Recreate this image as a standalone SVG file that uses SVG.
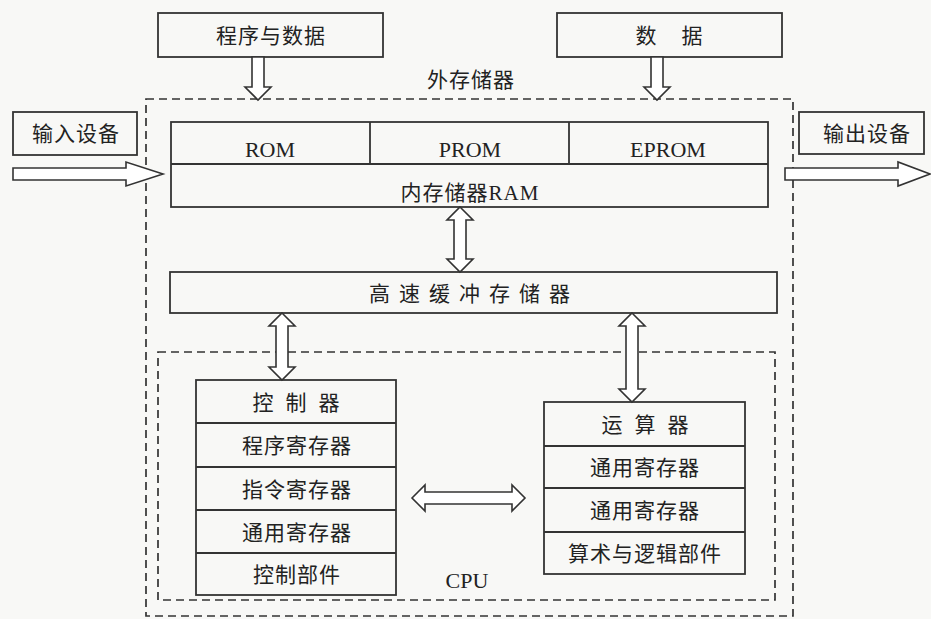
<svg xmlns="http://www.w3.org/2000/svg" width="931" height="619" viewBox="0 0 931 619">
<style>
.box{fill:none;stroke:#333;stroke-width:1.8}
.dash{fill:none;stroke:#333;stroke-width:1.7;stroke-dasharray:8 5}
.arr{fill:#fff;stroke:#333;stroke-width:1.6;stroke-linejoin:miter}
.t{font-family:"Liberation Serif","Noto Sans CJK SC",serif;font-size:21px;fill:#222;text-anchor:middle}
.c{letter-spacing:1px}
.lat{font-size:22px}
</style>
<rect x="0" y="0" width="931" height="619" fill="#f8f8f6"/>
<g id="outer-storage">
<rect class="dash" x="146" y="99" width="647" height="517"/>
<text class="t c" x="471" y="87">外存储器</text>
</g>
<g id="prog-data">
<rect class="box" x="158" y="13" width="225" height="44"/>
<text class="t c" x="271" y="43">程序与数据</text>
</g>
<g id="data">
<rect class="box" x="557" y="13" width="225" height="44"/>
<text class="t" x="674" y="43" style="letter-spacing:10px">数 据</text>
</g>
<g id="input">
<rect class="box" x="13" y="112" width="124" height="43"/>
<text class="t c" x="76" y="141">输入设备</text>
</g>
<g id="output">
<rect class="box" x="799" y="112" width="125" height="42"/>
<text class="t c" x="867" y="141">输出设备</text>
</g>
<g id="memory">
<rect class="box" x="171" y="122" width="597" height="85"/>
<line class="box" x1="171" y1="164" x2="768" y2="164"/>
<line class="box" x1="370" y1="122" x2="370" y2="164"/>
<line class="box" x1="569" y1="122" x2="569" y2="164"/>
<text class="t lat" x="270" y="157">ROM</text>
<text class="t lat" x="470" y="157">PROM</text>
<text class="t lat" x="668" y="157">EPROM</text>
<text class="t c" x="470" y="200">内存储器RAM</text>
</g>
<g id="cache">
<rect class="box" x="170" y="272" width="607" height="41"/>
<text class="t" x="474" y="301" style="letter-spacing:9px">高速缓冲存储器</text>
</g>
<g id="cpu">
<rect class="dash" x="158" y="352" width="617" height="248"/>
<text class="t lat" x="467" y="588">CPU</text>
</g>
<g id="controller">
<rect class="box" x="196" y="380" width="200" height="215"/>
<line class="box" x1="196" y1="423" x2="396" y2="423"/>
<line class="box" x1="196" y1="467" x2="396" y2="467"/>
<line class="box" x1="196" y1="510" x2="396" y2="510"/>
<line class="box" x1="196" y1="553" x2="396" y2="553"/>
<text class="t" x="302" y="410" style="letter-spacing:12px">控制器</text>
<text class="t c" x="297" y="453">程序寄存器</text>
<text class="t c" x="297" y="497">指令寄存器</text>
<text class="t c" x="297" y="540">通用寄存器</text>
<text class="t c" x="297" y="582">控制部件</text>
</g>
<g id="alu">
<rect class="box" x="544" y="402" width="201" height="172"/>
<line class="box" x1="544" y1="446" x2="745" y2="446"/>
<line class="box" x1="544" y1="488" x2="745" y2="488"/>
<line class="box" x1="544" y1="532" x2="745" y2="532"/>
<text class="t" x="651" y="432" style="letter-spacing:12px">运算器</text>
<text class="t c" x="645" y="475">通用寄存器</text>
<text class="t c" x="645" y="518">通用寄存器</text>
<text class="t c" x="645" y="561">算术与逻辑部件</text>
</g>
<g id="connectors">
<polygon class="arr" points="252,57 264,57 264,87 271,87 258,100 245,87 252,87"/>
<polygon class="arr" points="651,57 663,57 663,87 670,87 657,100 644,87 651,87"/>
<polygon class="arr" points="13,168 126,168 126,162 163,174 126,186 126,180 13,180"/>
<polygon class="arr" points="785,168 898,168 898,162 930,174 898,186 898,180 785,180"/>
<polygon class="arr" points="460,207 473,220 466,220 466,259 473,259 460,272 447,259 454,259 454,220 447,220"/>
<polygon class="arr" points="282,313 295,326 288,326 288,367 295,367 282,380 269,367 276,367 276,326 269,326"/>
<polygon class="arr" points="632,313 645,326 638,326 638,389 645,389 632,402 619,389 626,389 626,326 619,326"/>
<polygon class="arr" points="412,498 425,485 425,492 512,492 512,485 525,498 512,511 512,504 425,504 425,511"/>
</g>
</svg>
